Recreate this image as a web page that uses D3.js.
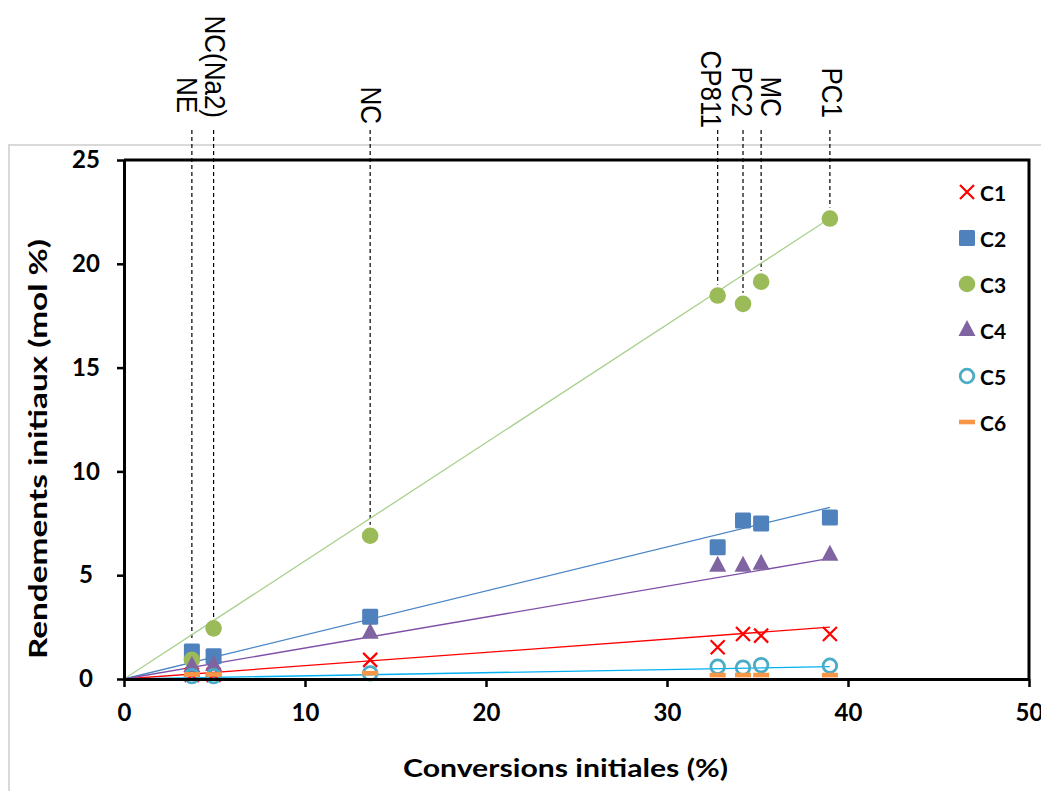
<!DOCTYPE html>
<html>
<head>
<meta charset="utf-8">
<script src="https://cdn.jsdelivr.net/npm/d3@7"></script>
<style>
  html, body { margin: 0; padding: 0; background: #fff; }
  svg { display: block; }
</style>
</head>
<body>
<svg id="chart" width="1041" height="791"></svg>
<script>
// ---- data ----
const categories   = ["NE", "NC(Na2)", "NC", "CP811", "PC2", "MC", "PC1"];
const conversions  = [3.75, 4.95, 13.6, 32.8, 34.2, 35.2, 39.0];
const seriesNames  = ["C1", "C2", "C3", "C4", "C5", "C6"];
const c1Values     = [0.20, 0.20, 0.92, 1.53, 2.17, 2.09, 2.17];
const c2Values     = [1.32, 1.10, 3.00, 6.35, 7.63, 7.49, 7.78];
const c3Values     = [0.92, 2.44, 6.90, 18.47, 18.07, 19.14, 22.18];
const c4Values     = [0.63, 0.67, 2.23, 5.45, 5.45, 5.55, 5.98];
const c5Values     = [0.14, 0.14, 0.27, 0.59, 0.55, 0.67, 0.64];
const c6Values     = [0.22, 0.22, 0.28, 0.19, 0.19, 0.19, 0.19];
const trendSlopes  = [0.064, 0.212, 0.569, 0.149, 0.0152, null];
const xTicks       = [0, 10, 20, 30, 40, 50];
const yTicks       = [0, 5, 10, 15, 20, 25];
const xTitle       = "Conversions initiales (%)";
const yTitle       = "Rendements initiaux (mol %)";

// ---- styling / layout ----
const allValues = [c1Values, c2Values, c3Values, c4Values, c5Values, c6Values];
const markerColors = ["#ff0000", "#4f81bd", "#9bbb59", "#8064a2", "#4bacc6", "#f79646"];
const lineColors   = ["#ff0000", "#4a86c5", "#a9d18e", "#7f4fa8", "#00b0f0", "#f79646"];
const markerTypes  = ["x", "square", "circle", "triangle", "ring", "dash"];
// layout of the rotated category labels: bottom end and horizontal shift from leader line
const labelBottoms = [113, 118, 124, 128, 117, 117, 118];
const labelShifts  = [-5, 2, 1, -6, -1, 10, 2];

const svg = d3.select("#chart");
const W = 1041, H = 791;
const plot = { left: 124, right: 1029, top: 160, bottom: 679 };

const x = d3.scaleLinear().domain([0, 50]).range([plot.left, plot.right]);
const y = d3.scaleLinear().domain([0, 25]).range([plot.bottom, plot.top]);

// outer light frame
svg.append("path")
  .attr("d", `M9,${H} L9,145 L${W},145`)
  .attr("fill", "none").attr("stroke", "#d9d9d9").attr("stroke-width", 2);

// category labels + dashed leader lines
const topLine = 130;
const labelSize = 26, labelStretch = 1.1;
const capH = labelSize * 0.716 * labelStretch;
categories.forEach((cat, i) => {
  const cx = x(conversions[i]);
  const topVal = d3.max(allValues, s => s[i]);
  const endY = y(topVal) - 11;
  svg.append("line")
    .attr("x1", cx).attr("x2", cx)
    .attr("y1", topLine).attr("y2", endY)
    .attr("stroke", "#000").attr("stroke-width", 1.2)
    .attr("stroke-dasharray", "4,3");
  const centerX = cx + labelShifts[i];
  svg.append("text")
    .attr("transform", `translate(${centerX - capH / 2},${labelBottoms[i]}) rotate(90) scale(1,${labelStretch})`)
    .attr("text-anchor", "end")
    .attr("font-family", "Liberation Sans, Arial, sans-serif")
    .attr("font-size", labelSize)
    .attr("fill", "#000")
    .text(cat);
});

// trend lines (through origin)
const xMax = d3.max(conversions);
trendSlopes.forEach((s, k) => {
  if (s === null) return;
  svg.append("line")
    .attr("x1", x(0)).attr("y1", y(0))
    .attr("x2", x(xMax)).attr("y2", y(s * xMax))
    .attr("stroke", lineColors[k]).attr("stroke-width", 1.3);
});

// marker drawing helper
function drawMarker(g, type, color, cx, cy) {
  if (type === "x") {
    const r = 7;
    g.append("path")
      .attr("d", `M${cx - r},${cy - r}L${cx + r},${cy + r}M${cx - r},${cy + r}L${cx + r},${cy - r}`)
      .attr("stroke", color).attr("stroke-width", 2.2).attr("fill", "none");
  } else if (type === "square") {
    g.append("rect").attr("x", cx - 8).attr("y", cy - 8)
      .attr("width", 16).attr("height", 16).attr("rx", 1.5)
      .attr("fill", color);
  } else if (type === "circle") {
    g.append("circle").attr("cx", cx).attr("cy", cy).attr("r", 8.3).attr("fill", color);
  } else if (type === "triangle") {
    g.append("path")
      .attr("d", `M${cx},${cy - 10}L${cx + 8.5},${cy + 6}L${cx - 8.5},${cy + 6}Z`)
      .attr("fill", color);
  } else if (type === "ring") {
    g.append("circle").attr("cx", cx).attr("cy", cy).attr("r", 6.8)
      .attr("fill", "none").attr("stroke", color).attr("stroke-width", 2.8);
  } else if (type === "dash") {
    g.append("rect").attr("x", cx - 8).attr("y", cy - 2.3)
      .attr("width", 16).attr("height", 4.6).attr("fill", color);
  }
}

// data markers
const markersG = svg.append("g");
allValues.forEach((vals, k) => {
  vals.forEach((v, i) => {
    drawMarker(markersG, markerTypes[k], markerColors[k], x(conversions[i]), y(v));
  });
});

// plot frame (top/right)
svg.append("path")
  .attr("d", `M${plot.left},${plot.top} L${plot.right},${plot.top} L${plot.right},${plot.bottom}`)
  .attr("fill", "none").attr("stroke", "#000").attr("stroke-width", 3);

// axes
const tickFont = "Lato, 'Open Sans', sans-serif";
const xAxis = svg.append("g")
  .attr("transform", `translate(0,${plot.bottom})`)
  .call(d3.axisBottom(x).tickValues(xTicks).tickSize(8).tickSizeOuter(0).tickPadding(17));
const yAxis = svg.append("g")
  .attr("transform", `translate(${plot.left},0)`)
  .call(d3.axisLeft(y).tickValues(yTicks).tickSize(7).tickSizeOuter(0).tickPadding(12));

[xAxis, yAxis].forEach(a => {
  a.select(".domain").attr("stroke", "#000").attr("stroke-width", 3);
  a.selectAll(".tick line").attr("stroke", "#000").attr("stroke-width", 2.5);
  a.selectAll(".tick text")
    .attr("font-family", tickFont).attr("font-weight", "bold")
    .attr("font-size", 24).attr("fill", "#000");
});
yAxis.selectAll(".tick text").attr("text-anchor", "middle").attr("x", -38);

// axis titles
svg.append("text")
  .attr("x", (403 + 728) / 2).attr("y", 777)
  .attr("text-anchor", "middle")
  .attr("font-family", tickFont).attr("font-weight", "bold").attr("font-size", 25)
  .attr("textLength", 325).attr("lengthAdjust", "spacingAndGlyphs")
  .text(xTitle);
svg.append("text")
  .attr("transform", `translate(47,${(238 + 660) / 2}) rotate(-90)`)
  .attr("text-anchor", "middle")
  .attr("font-family", tickFont).attr("font-weight", "bold").attr("font-size", 25)
  .attr("textLength", 420).attr("lengthAdjust", "spacingAndGlyphs")
  .text(yTitle);

// legend
const legend = svg.append("g");
seriesNames.forEach((name, k) => {
  const ly = 192 + k * 46;
  drawMarker(legend, markerTypes[k], markerColors[k], 967, ly);
  legend.append("text")
    .attr("x", 980).attr("y", ly)
    .attr("dominant-baseline", "central")
    .attr("font-family", tickFont).attr("font-weight", "bold").attr("font-size", 21)
    .text(name);
});
</script>
</body>
</html>
